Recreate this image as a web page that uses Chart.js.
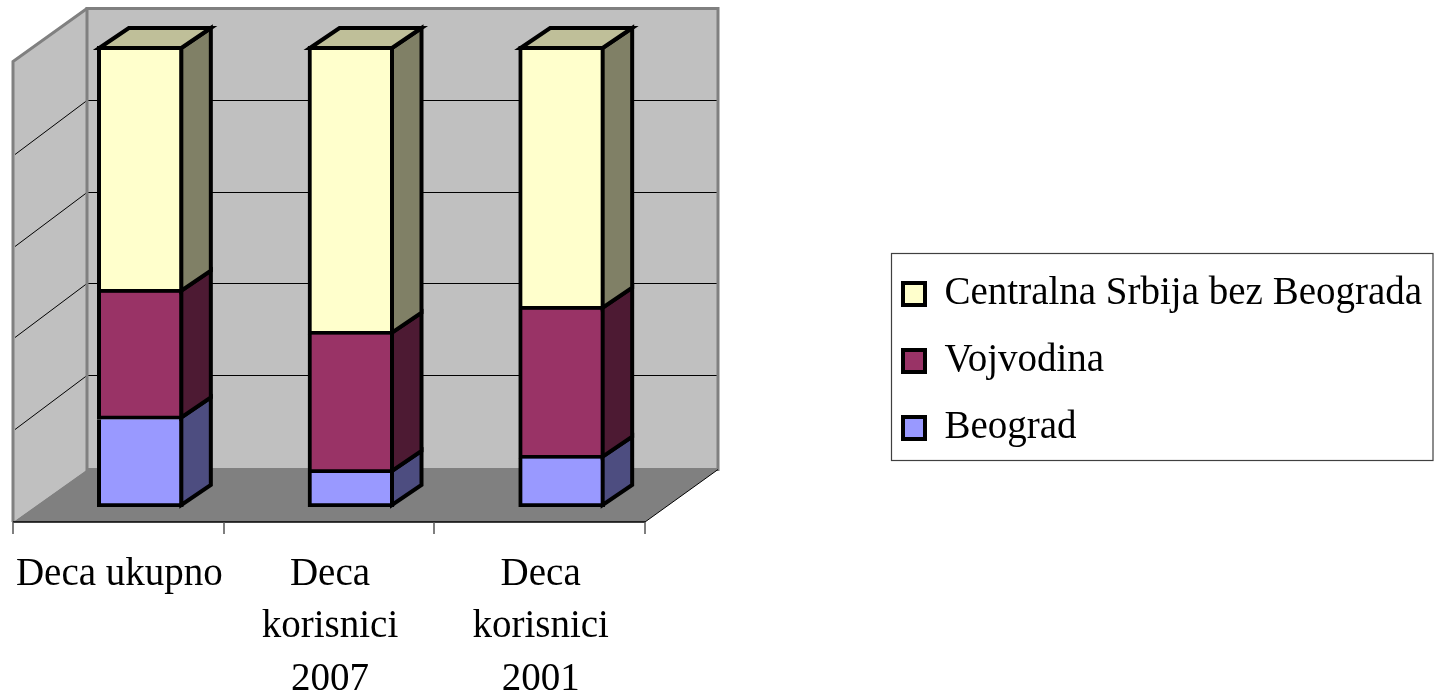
<!DOCTYPE html>
<html><head><meta charset="utf-8">
<style>html,body{margin:0;padding:0;background:#fff}canvas{display:block}</style>
<script src="https://cdn.jsdelivr.net/npm/chart.js@4"></script>
</head><body>
<div style="width:1434px;height:693px"><canvas id="c" width="1434" height="693"></canvas></div>
<script>
const categories = [["Deca ukupno"], ["Deca", "korisnici", "2007"], ["Deca", "korisnici", "2001"]];
const beograd = [19.0, 7.4, 10.5];
const vojvodina = [27.5, 30.0, 32.3];
const centralna = [53.5, 62.6, 57.2];
const yTicks = [0, 20, 40, 60, 80, 100];

const FONT = "'Liberation Serif'";
const BAR_LINE = 4;
const DEPTH = {x: 29.5, y: -20};   // bar depth
const WALL = {front: {x: -22, y: 15}, backX: 52}; // projection of the 3D box
const sideColors = ["#4D4D80", "#4D1A33", "#808066"];
const topColor = "#BFBF99";

const box3d = {
  id: "box3d",
  afterLayout(chart) {
    const l = chart.legend;
    l.left = 875; l.right = 1433; l.top = 246.5; l.bottom = 693;
  },
  beforeDatasetsDraw(chart) {
    const {ctx, scales: {y}, chartArea: a} = chart;
    const y0 = y.getPixelForValue(0);
    const by = v => 467.5 - (y0 - y.getPixelForValue(v)) * 459 / 461; // back wall
    const fx0 = a.left + WALL.front.x, fx1 = a.right + WALL.front.x;
    const bx0 = a.left + WALL.backX, bx1 = a.right + 51;
    const bTop = by(100), bBot = 469.5, fBot = y0 + WALL.front.y, fTop = bTop + 53;
    ctx.save();
    // back + left walls
    ctx.fillStyle = "#C0C0C0";
    ctx.fillRect(bx0, bTop, bx1 - bx0, bBot - bTop);
    ctx.beginPath(); ctx.moveTo(fx0, fTop); ctx.lineTo(bx0, bTop); ctx.lineTo(bx0, bBot); ctx.lineTo(fx0, fBot); ctx.closePath(); ctx.fill();
    // gridlines
    ctx.strokeStyle = "#000"; ctx.lineWidth = 1;
    yTicks.slice(1, -1).forEach(v => {
      const yy = Math.floor(by(v)) + .5;
      ctx.beginPath(); ctx.moveTo(fx0 + 2, yy + 54); ctx.lineTo(bx0, yy); ctx.lineTo(bx1, yy); ctx.stroke();
    });
    // wall borders
    ctx.strokeStyle = "#808080"; ctx.lineWidth = 3; ctx.lineJoin = "miter";
    ctx.strokeRect(bx0, bTop, bx1 - bx0, bBot - bTop);
    ctx.beginPath(); ctx.moveTo(fx0, fBot); ctx.lineTo(fx0, fTop); ctx.lineTo(bx0, bTop); ctx.stroke();
    // floor, its edges and the axis
    ctx.fillStyle = "#808080";
    ctx.beginPath(); ctx.moveTo(fx0, fBot); ctx.lineTo(bx0, bBot); ctx.lineTo(bx1, bBot); ctx.lineTo(fx1, fBot); ctx.closePath(); ctx.fill();
    ctx.strokeStyle = "#000"; ctx.lineWidth = 1;
    ctx.beginPath(); ctx.moveTo(fx1, fBot); ctx.lineTo(bx1, bBot); ctx.stroke();
    ctx.lineWidth = 1.5;
    ctx.beginPath(); ctx.moveTo(fx0, fBot); ctx.lineTo(fx1, fBot); ctx.stroke();
    ctx.strokeStyle = "#555"; ctx.lineWidth = 1.5;
    const n = categories.length, step = (fx1 - fx0) / n;
    for (let i = 0; i <= n; i++) {
      const tx = Math.round(fx0 + step * i);
      ctx.beginPath(); ctx.moveTo(tx, fBot); ctx.lineTo(tx, fBot + 12); ctx.stroke();
    }
    ctx.restore();
  },
  afterDatasetsDraw(chart) {
    const {ctx} = chart;
    const last = chart.data.datasets.length - 1;
    const h = BAR_LINE / 2;
    ctx.save();
    ctx.strokeStyle = "#000"; ctx.lineWidth = BAR_LINE; ctx.lineJoin = "miter";
    chart.data.datasets.forEach((ds, di) => {
      chart.getDatasetMeta(di).data.forEach(b => {
        const r = b.x + b.width / 2 - h, l = b.x - b.width / 2 + h;
        const t = di === last ? b.y + h : b.y - h, bo = b.base - h;
        ctx.fillStyle = sideColors[di];
        ctx.beginPath();
        ctx.moveTo(r, t); ctx.lineTo(r + DEPTH.x, t + DEPTH.y); ctx.lineTo(r + DEPTH.x, bo + DEPTH.y); ctx.lineTo(r, bo);
        ctx.closePath(); ctx.fill(); ctx.stroke();
        if (di === last) {
          ctx.fillStyle = topColor;
          ctx.beginPath();
          ctx.moveTo(l, t); ctx.lineTo(l + DEPTH.x, t + DEPTH.y); ctx.lineTo(r + DEPTH.x, t + DEPTH.y); ctx.lineTo(r, t);
          ctx.closePath(); ctx.fill(); ctx.stroke();
        }
      });
    });
    ctx.restore();
  },
  afterDraw(chart) {
    const {ctx} = chart;
    ctx.save();
    ctx.strokeStyle = "#404040"; ctx.lineWidth = 1.2;
    ctx.strokeRect(891.5, 253.5, 541.5, 207);
    ctx.restore();
  }
};

new Chart(document.getElementById("c"), {
  type: "bar",
  data: {
    labels: categories,
    datasets: [
      {label: "Beograd", data: beograd, backgroundColor: "#9999FF", borderSkipped: "top"},
      {label: "Vojvodina", data: vojvodina, backgroundColor: "#993366", borderSkipped: "top"},
      {label: "Centralna Srbija bez Beograda", data: centralna, backgroundColor: "#FFFFCC", borderSkipped: false}
    ].map(d => Object.assign(d, {borderColor: "#000", borderWidth: BAR_LINE, barThickness: 86}))
  },
  plugins: [box3d],
  options: {
    responsive: false,
    animation: false,
    layout: {padding: {left: 35, top: 46, right: 767, bottom: 0}},
    plugins: {
      title: {display: false},
      tooltip: {enabled: false},
      legend: {
        position: "chartArea",
        align: "start",
        reverse: true,
        labels: {
          font: {family: FONT, size: 39},
          color: "#000",
          boxWidth: 22, boxHeight: 22,
          padding: 28
        }
      }
    },
    scales: {
      x: {
        stacked: true,
        grid: {display: false},
        border: {display: false},
        afterFit(s) { s.height = 186; s.paddingLeft = 0; s.paddingRight = 0; },
        ticks: {
          font: {family: FONT, size: 39, lineHeight: 1.35},
          color: "#000",
          padding: 33,
          labelOffset: -21,
          maxRotation: 0,
          autoSkip: false
        }
      },
      y: {
        stacked: true,
        display: false,
        min: 0,
        max: 100,
        afterBuildTicks(s) { s.ticks = yTicks.map(v => ({value: v})); }
      }
    }
  }
});
</script>
</body></html>
